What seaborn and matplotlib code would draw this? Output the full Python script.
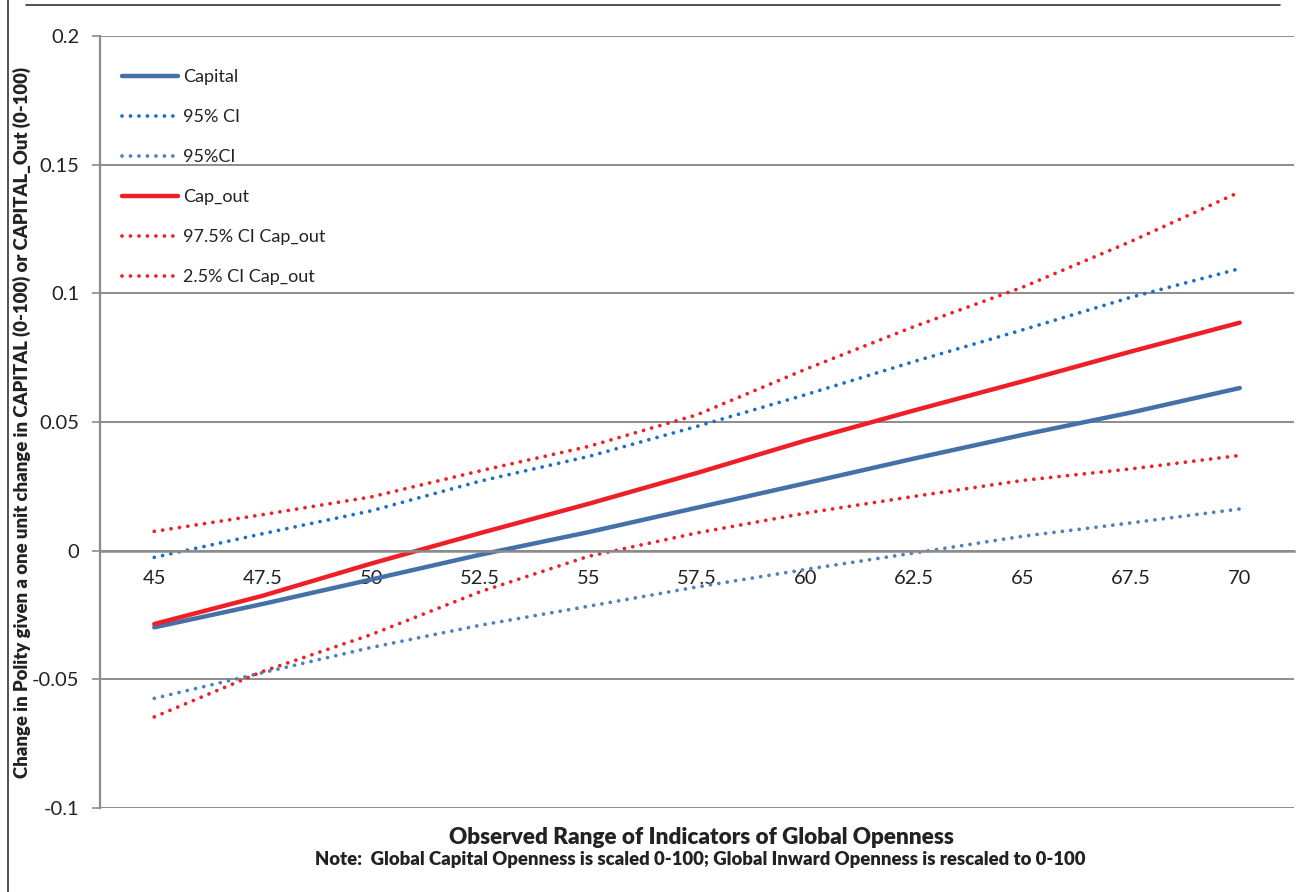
"""
Effet marginal de l'ouverture du capital sur Polity, avec intervalles de confiance.
"""

import matplotlib
matplotlib.use("Agg")
import matplotlib.pyplot as plt
from matplotlib.lines import Line2D
import pandas as pd
import seaborn as sns

openness = [45, 47.5, 50, 52.5, 55, 57.5, 60, 62.5, 65, 67.5, 70]

capital = [-0.0298, -0.0207, -0.0112, -0.0016, 0.0072, 0.0167, 0.0262, 0.0358, 0.0450, 0.0537, 0.0632]
ci95_hi = [-0.0026, 0.0066, 0.0155, 0.0270, 0.0366, 0.0483, 0.0606, 0.0735, 0.0858, 0.0985, 0.1096]
ci95_lo = [-0.0574, -0.0474, -0.0376, -0.0290, -0.0216, -0.0141, -0.0073, -0.0009, 0.0056, 0.0108, 0.0162]
cap_out = [-0.0285, -0.0175, -0.0050, 0.0068, 0.0182, 0.0302, 0.0428, 0.0545, 0.0658, 0.0774, 0.0886]
ci975_out = [0.0075, 0.0140, 0.0209, 0.0310, 0.0405, 0.0528, 0.0705, 0.0871, 0.1024, 0.1202, 0.1394]
ci25_out = [-0.0646, -0.0469, -0.0326, -0.0160, -0.0022, 0.0069, 0.0146, 0.0211, 0.0273, 0.0318, 0.0370]

series_names = ["Capital", "95% CI", "95%CI", "Cap_out", "97.5% CI Cap_out", "2.5% CI Cap_out"]
series_values = [capital, ci95_hi, ci95_lo, cap_out, ci975_out, ci25_out]

dotted = (0, (0.01, 2.25))
styles = {
    "Capital": dict(color="#4570A8", linestyle="-", lw=3.2),
    "95% CI": dict(color="#1F6FC0", linestyle=dotted, lw=2.7),
    "95%CI": dict(color="#4F7FC0", linestyle=dotted, lw=2.7),
    "Cap_out": dict(color="#EE1F26", linestyle="-", lw=3.2),
    "97.5% CI Cap_out": dict(color="#EE1F26", linestyle=dotted, lw=2.7),
    "2.5% CI Cap_out": dict(color="#EE1F26", linestyle=dotted, lw=2.7),
}

sns.set_style("white")
plt.rcParams["font.family"] = ["Lato", "DejaVu Sans"]

fig = plt.figure(figsize=(12.98, 8.92), dpi=100)
ax = fig.add_axes([100 / 1298, 1 - 808 / 892, 1194 / 1298, 772 / 892])

for name, vals in zip(series_names, series_values):
    df = pd.DataFrame({"x": openness, "y": vals})
    st = styles[name]
    sns.lineplot(data=df, x="x", y="y", ax=ax, color=st["color"],
                 linestyle=st["linestyle"], linewidth=st["lw"],
                 dash_capstyle="round", solid_capstyle="round", label=name)

ax.set_xlim(43.75, 71.25)
ax.set_ylim(-0.1, 0.2)
yticks = [-0.1, -0.05, 0, 0.05, 0.1, 0.15, 0.2]
ax.set_yticks(yticks)
ax.set_yticklabels(["-0.1", "-0.05", "0", "0.05", "0.1", "0.15", "0.2"])
ax.set_xticks(openness)
ax.set_xticklabels([f"{v:g}" for v in openness])

ax.grid(axis="y", color="#8C8C8C", lw=1.4)
ax.grid(axis="x", visible=False)
ax.set_axisbelow(True)
for s in ["top", "right"]:
    ax.spines[s].set_visible(False)
ax.spines["left"].set_color("#8C8C8C")
ax.spines["left"].set_linewidth(1.6)
ax.spines["bottom"].set_position(("data", 0))
ax.spines["bottom"].set_color("#8C8C8C")
ax.spines["bottom"].set_linewidth(1.8)
ax.tick_params(axis="y", direction="out", length=6, width=1.2, color="#8C8C8C", pad=9,
               left=True, labelsize=14.5, labelcolor="#222222")
ax.tick_params(axis="x", length=0, pad=14, labelsize=14.5, labelcolor="#222222")

ax.set_xlabel("")
ax.set_ylabel("Change in Polity given a one unit change in CAPITAL (0-100) or CAPITAL_Out (0-100)",
              fontdict={"fontsize": 13.3, "fontweight": "heavy", "color": "#222222"})
ax.yaxis.set_label_coords(-0.058, 0.5)

fig.text(701 / 1298, 1 - 837 / 892, "Observed Range of Indicators of Global Openness",
         ha="center", va="center", fontsize=16.2, fontweight="heavy", color="#222222")
fig.text(700 / 1298, 1 - 859 / 892,
         "Note:  Global Capital Openness is scaled 0-100; Global Inward Openness is rescaled to 0-100",
         ha="center", va="center", fontsize=13.3, fontweight="heavy", color="#222222")

leg = ax.legend(loc="upper left", bbox_to_anchor=(0.0, 0.985), frameon=False, fontsize=13,
                handlelength=3.1, handletextpad=0.3, labelspacing=1.33, borderaxespad=0.8)
for t in leg.get_texts():
    t.set_color("#222222")

# cadre du graphique
fig.add_artist(Line2D([26 / 1298, 1280 / 1298], [1 - 5 / 892, 1 - 5 / 892], color="#333333", lw=1.2))
fig.add_artist(Line2D([8 / 1298, 8 / 1298], [0, 1], color="#333333", lw=1.2))

fig.savefig("out.png", dpi=100)
